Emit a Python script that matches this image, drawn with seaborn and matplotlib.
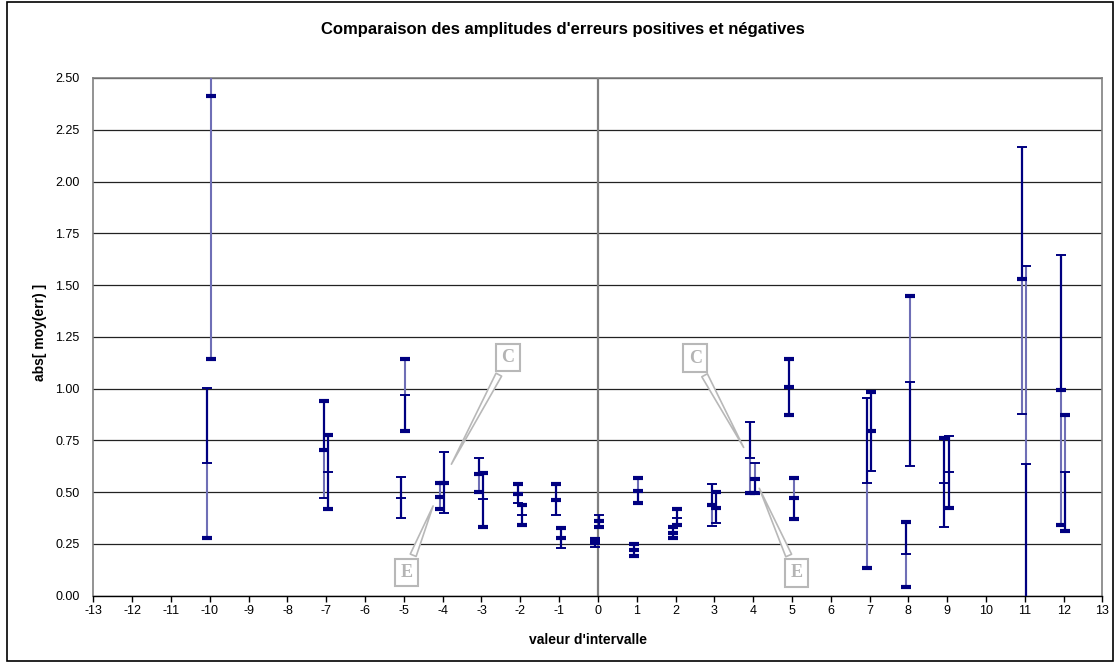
import numpy as np
import pandas as pd
import matplotlib
matplotlib.use("Agg")
import matplotlib.pyplot as plt
import seaborn as sns
from matplotlib.patches import Rectangle

# ---------------- data ----------------
title = "Comparaison des amplitudes d'erreurs positives et négatives"
x_label = "valeur d'intervalle"
y_label = "abs[ moy(err) ]"

x_ticks = list(range(-13, 14))
y_ticks = [0.00, 0.25, 0.50, 0.75, 1.00, 1.25, 1.50, 1.75, 2.00, 2.25, 2.50]

bar_x = [-10, -10, -7, -7, -5, -5, -4, -4, -3, -3, -2, -2, -1, -1, 0, 0,
         1, 1, 2, 2, 3, 3, 4, 4, 5, 5, 7, 7, 8, 8, 9, 9, 11, 11, 12, 12]
bar_side = ["L", "R"] * 18
bar_low = [0.281, 1.144, 0.473, 0.417, 0.375, 0.797, 0.417, 0.398, 0.500, 0.333,
           0.449, 0.340, 0.390, 0.229, 0.234, 0.330, 0.190, 0.449, 0.280, 0.340,
           0.337, 0.353, 0.495, 0.495, 0.873, 0.372, 0.135, 0.602, 0.043, 0.627,
           0.330, 0.424, 0.876, -0.320, 0.342, 0.313]
bar_mid = [0.640, 2.415, 0.705, 0.595, 0.473, 0.970, 0.478, 0.546, 0.586, 0.466,
           0.491, 0.390, 0.462, 0.280, 0.256, 0.362, 0.222, 0.507, 0.303, 0.377,
           0.438, 0.424, 0.664, 0.564, 1.008, 0.470, 0.543, 0.797, 0.200, 1.034,
           0.543, 0.596, 1.527, 0.635, 0.994, 0.596]
bar_high = [1.005, 3.686, 0.941, 0.775, 0.572, 1.142, 0.546, 0.694, 0.664, 0.594,
            0.538, 0.440, 0.538, 0.326, 0.275, 0.388, 0.250, 0.567, 0.333, 0.417,
            0.541, 0.500, 0.838, 0.640, 1.142, 0.570, 0.953, 0.986, 0.355, 1.449,
            0.760, 0.772, 2.169, 1.591, 1.643, 0.873]
# mark weight at (low, mid, high): T = data point, t = error cap
mark_style = ["Ttt", "TTt", "tTT", "TtT", "ttt", "TtT", "TTT", "tTt", "TTt", "TtT",
              "tTT", "TtT", "tTT", "tTT", "tTT", "TTt", "TTT", "TTT", "TTT", "TtT",
              "tTt", "tTT", "Ttt", "TTt", "TTT", "TTT", "Ttt", "tTT", "TtT", "ttT",
              "ttT", "Ttt", "tTt", "ttt", "TTt", "TtT"]
# segment tone (lower, upper): d = dark, l = light
seg_style = ["ld", "ll", "ld", "dd", "dd", "dl", "ll", "dd", "ld", "dd",
             "dd", "dd", "dd", "dd", "dd", "dd", "dd", "dl", "dd", "dd",
             "ld", "dd", "ld", "dl", "dd", "dl", "ld", "dd", "ld", "dl",
             "dd", "dd", "ld", "dl", "ld", "dl"]

callout_text = ["C", "E", "C", "E"]
callout_xy = [(-3.81, 0.623), (-4.22, 0.446), (3.79, 0.704), (4.13, 0.531)]
callout_box = [(-2.32, 1.15), (-4.94, 0.112), (2.51, 1.147), (5.11, 0.111)]

# ---------------- build tables ----------------
side_off = {"L": -0.07, "R": 0.04}
pos = [x + side_off[s] for x, s in zip(bar_x, bar_side)]

seg_rows = []
mark_rows = []
for p, lo, mi, hi, ms, ss in zip(pos, bar_low, bar_mid, bar_high, mark_style, seg_style):
    seg_rows.append(dict(x=p, y0=lo, y1=mi, tone=ss[0]))
    seg_rows.append(dict(x=p, y0=mi, y1=hi, tone=ss[1]))
    for v, w in zip((lo, mi, hi), ms):
        mark_rows.append(dict(x=p, y=v, kind=w))
segs = pd.DataFrame(seg_rows)
marks = pd.DataFrame(mark_rows)

# ---------------- figure ----------------
sns.set_theme(style="white")
plt.rcParams["font.family"] = ["Liberation Sans", "DejaVu Sans"]
plt.rcParams["text.color"] = "black"
plt.rcParams["xtick.color"] = "black"
plt.rcParams["ytick.color"] = "black"
plt.rcParams["xtick.labelcolor"] = "black"
plt.rcParams["ytick.labelcolor"] = "black"

fig = plt.figure(figsize=(11.15, 6.63), dpi=100)
ax = fig.add_axes([0.0838, 0.1015, 0.9049, 0.7809])

NAVY = "#000080"
LIGHT = "#6f6fb6"

ax.set_xlim(-13, 13)
ax.set_ylim(0, 2.5)
ax.set_yticks(y_ticks)
ax.set_yticklabels([f"{v:.2f}" for v in y_ticks])
ax.set_xticks(x_ticks)
ax.set_xticklabels([str(v) for v in x_ticks])
ax.yaxis.grid(True, color="#222222", lw=0.9, zorder=0)
ax.xaxis.grid(False)
ax.set_axisbelow(True)
ax.axvline(0, color="#808080", lw=1.6, zorder=1)

light = segs[segs.tone == "l"]
dark = segs[segs.tone == "d"]
ax.vlines(light.x, light.y0, light.y1, color=LIGHT, lw=1.5, zorder=3)
ax.vlines(dark.x, dark.y0, dark.y1, color=NAVY, lw=1.6, zorder=4)

thick = marks[marks.kind == "T"]
thin = marks[marks.kind == "t"]
sns.scatterplot(data=thin, x="x", y="y", marker="_", s=55, linewidth=1.4,
                color=NAVY, ax=ax, zorder=5, legend=False)
sns.scatterplot(data=thick, x="x", y="y", marker="_", s=42, linewidth=3.0,
                color=NAVY, ax=ax, zorder=6, legend=False)

ax.set_xlabel("")
ax.set_ylabel("")

for sp in ("left", "right", "top"):
    ax.spines[sp].set_color("#808080")
    ax.spines[sp].set_linewidth(1.2)
ax.spines["bottom"].set_color("black")
ax.spines["bottom"].set_linewidth(1.0)

ax.tick_params(axis="x", direction="out", length=4, width=1, color="black",
               labelcolor="black", labelsize=9, pad=3, bottom=True)
ax.tick_params(axis="y", length=0, labelsize=9, pad=10, labelcolor="black")

for txt, xy, bx in zip(callout_text, callout_xy, callout_box):
    ax.annotate(txt, xy=xy, xytext=bx, ha="center", va="center",
                fontsize=13, fontweight="bold", color="#b4b4b4",
                family=["Liberation Serif", "DejaVu Serif"],
                bbox=dict(boxstyle="square,pad=0.3", fc="white", ec="#b8b8b8", lw=1.5),
                arrowprops=dict(arrowstyle="wedge,tail_width=0.35,shrink_factor=0.5",
                                fc="white", ec="#b8b8b8", lw=1.2),
                zorder=7, annotation_clip=False)

fig.text(0.505, 0.955, title, ha="center", va="center", fontsize=12,
         fontweight="bold", color="black")
fig.text(0.527, 0.035, x_label, ha="center", va="center", fontsize=10,
         fontweight="bold", color="black")
fig.text(0.036, 0.499, y_label, ha="center", va="center", fontsize=10,
         fontweight="bold", rotation=90, color="black")

fig.patches.append(Rectangle((0.0063, 0.003), 0.9919, 0.994, transform=fig.transFigure,
                             fill=False, ec="black", lw=1.2, zorder=10))

fig.savefig("out.png", dpi=100)
